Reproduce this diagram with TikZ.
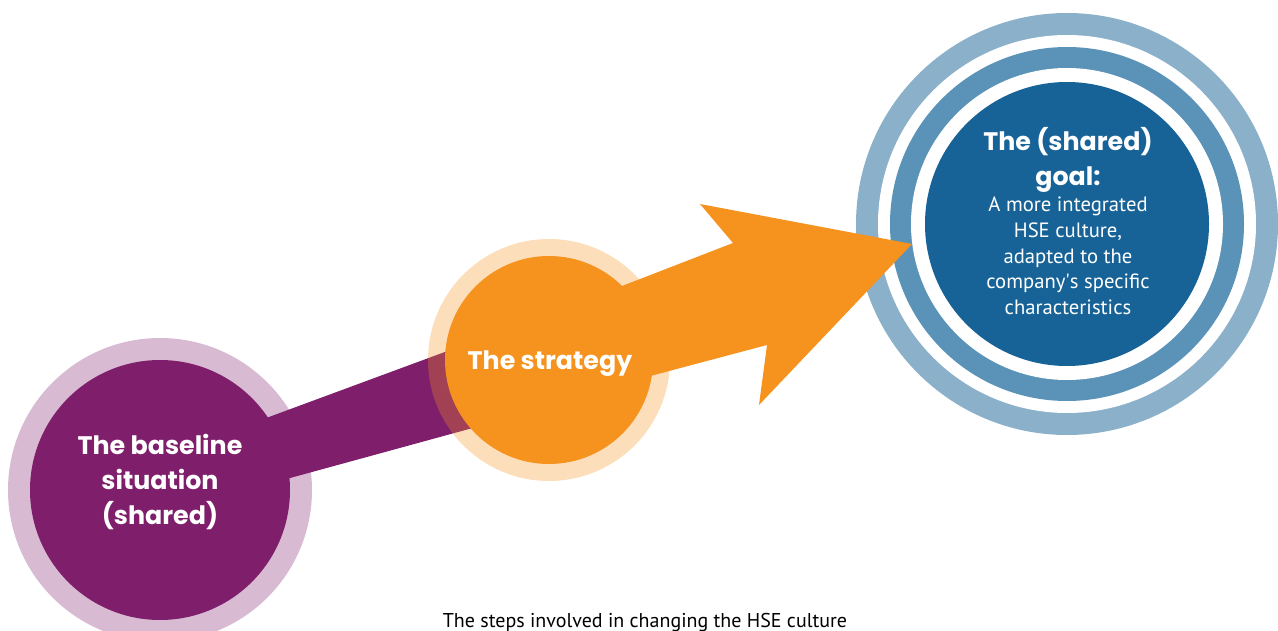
\documentclass[tikz,border=0pt]{standalone}
\usepackage{fontspec}
\setmainfont{PT Sans}
\newfontfamily\headfont{Poppins}
\usetikzlibrary{positioning}

\definecolor{plum}{HTML}{7F1F6B}
\definecolor{tangerine}{HTML}{F6921E}
\definecolor{ocean}{HTML}{176296}
\definecolor{oceanmid}{HTML}{5B93B8}
\definecolor{oceanlight}{HTML}{8AB0CA}

\begin{document}
\begin{tikzpicture}[
            x=0.75pt, y=-0.75pt,
            disc/.style={
              circle,
              inner sep=0pt,
            },
            label text/.style={text=white, align=center, inner sep=0pt},
            head/.style={font=\headfont\bfseries\fontsize{19}{26}\selectfont},
            body/.style={font=\fontsize{15.5}{19.3}\selectfont},
          ]
          \useasboundingbox (0,0) rectangle (1278,631);
          % baseline circle
          \fill[plum, opacity=0.3] (160,490) circle (152);
          \node[disc, fill=plum, minimum size=195pt] (base) at (160,490) {};
          \node[label text, head] (base text) at (160,482) {The baseline\\situation\\(shared)};
          % band from baseline to strategy
          \coordinate (band nw) at ([shift={(90,-66)}]base.center);
          \coordinate (band sw) at ([shift={(90,-1)}]base.center);
          \coordinate (band ne) at ([shift={(-69,-21)}]549,360);
          \coordinate (band se) at ([shift={(-69,66)}]549,360);
          \fill[plum] (band nw) -- (band ne) -- (band se) -- (band sw) -- cycle;
          % strategy circle
          \fill[tangerine, opacity=0.3] (549,360) circle (121);
          \node[disc, fill=tangerine, minimum size=156pt] (strategy) at (549,360) {};
          % goal rings
          \fill[oceanlight] (1067,224) circle (211);
          \fill[white] (1067,224) circle (189);
          \fill[oceanmid] (1067,224) circle (177);
          \fill[white] (1067,224) circle (156);
          \node[disc, fill=ocean, minimum size=213pt] (goal) at (1067,224) {};
          \node[label text, head] (goal head) at (1068,160) {The (shared)\\goal:};
          \node[label text, body] (goal body) at (1068,256) {A more integrated\\HSE culture,\\adapted to the\\company\textquotesingle s specific\\characteristics};
          % arrow from strategy to goal
          \coordinate (tail top) at ([shift={(11,-50)}]strategy.center);
          \coordinate (tail bottom) at ([shift={(11,40)}]strategy.center);
          \coordinate (notch top) at (733,243);
          \coordinate (barb top) at (700,204);
          \coordinate (tip) at ([shift={(-155,20)}]goal.center);
          \coordinate (barb bottom) at (759,405);
          \coordinate (notch bottom) at (767,345);
          \fill[tangerine] (tail top) -- (notch top) -- (barb top) -- (tip)
            -- (barb bottom) -- (notch bottom) -- (tail bottom) -- cycle;
          \node[label text, head] (strategy text) at (550,364) {The strategy};
          \node[body, font=\fontsize{15}{18}\selectfont, anchor=base] (caption) at (645,627) {The steps involved in changing the HSE culture};
          \end{tikzpicture}
\end{document}
